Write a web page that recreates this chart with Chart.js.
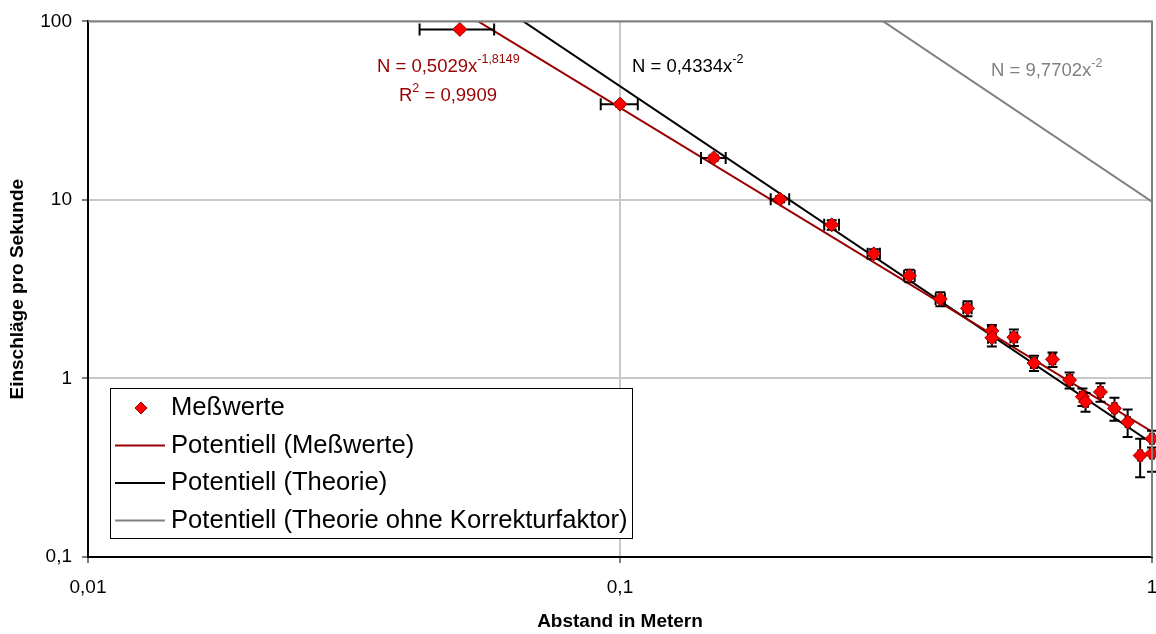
<!DOCTYPE html>
<html>
<head>
<meta charset="utf-8">
<script src="https://cdn.jsdelivr.net/npm/chart.js@4.4.0/dist/chart.umd.min.js"></script>
<style>
  html, body { margin: 0; padding: 0; background: #fff; }
</style>
</head>
<body>
<canvas id="c" width="1156" height="634"></canvas>
<script>
// Messwerte (Abstand in m, Einschläge pro s)
const abstand     = [0.05, 0.1, 0.15, 0.2, 0.25, 0.3, 0.35, 0.4, 0.45, 0.5, 0.5, 0.55, 0.6, 0.65, 0.7, 0.74, 0.75, 0.8, 0.85, 0.9, 0.95, 1.0, 1.0];
const einschlaege = [90.2, 34.4, 17.2, 10.1, 7.25, 4.99, 3.76, 2.79, 2.47, 1.85, 1.69, 1.70, 1.22, 1.28, 0.98, 0.79, 0.74, 0.84, 0.68, 0.57, 0.37, 0.46, 0.38];
const xFehler     = [0.008, 0.008, 0.008, 0.008, 0.008, 0.008, 0.008, 0.008, 0.008, 0.008, 0.008, 0.008, 0.008, 0.008, 0.008, 0.008, 0.008, 0.008, 0.008, 0.008, 0.008, 0.008, 0.008];
const yFehler     = [2, 1, 0.6, 0.4, 0.45, 0.3, 0.3, 0.25, 0.24, 0.14, 0.18, 0.18, 0.12, 0.12, 0.1, 0.09, 0.09, 0.1, 0.1, 0.1, 0.09, 0.05, 0.08];

// Trendlinien N = a * x^b
const fitMesswerte = [0.5029, -1.8149];
const fitTheorie   = [0.4334, -2];
const fitOhneKorr  = [9.7702, -2];
const fitBereich   = [0.05, 1];

const xTicks = [0.01, 0.1, 1];
const yTicks = [0.1, 1, 10, 100];

const FONT = "'Liberation Sans', Arial, sans-serif";
const DUNKELROT = '#990000';

const fmt = v => String(v).replace('.', ',');
const trend = (p) => fitBereich.map(x => ({ x: x, y: p[0] * Math.pow(x, p[1]) }));

const punkte = abstand.map((x, i) => ({ x: x, y: einschlaege[i] }));

// Fehlerbalken unter den Markern zeichnen
const fehlerbalken = {
    id: 'fehlerbalken',
    beforeDatasetDraw(chart, args) {
        if (args.index !== 0) return;
        const { ctx, scales: { x, y } } = chart;
        ctx.save();
        ctx.strokeStyle = '#000';
        ctx.lineWidth = 2;
        abstand.forEach((xv, i) => {
            const yv = einschlaege[i];
            const px = x.getPixelForValue(xv), py = y.getPixelForValue(yv);
            const x1 = x.getPixelForValue(xv - xFehler[i]), x2 = x.getPixelForValue(xv + xFehler[i]);
            const y1 = y.getPixelForValue(yv + yFehler[i]), y2 = y.getPixelForValue(yv - yFehler[i]);
            ctx.beginPath();
            ctx.moveTo(x1, py); ctx.lineTo(x2, py);
            ctx.moveTo(x1, py - 6); ctx.lineTo(x1, py + 6);
            ctx.moveTo(x2, py - 6); ctx.lineTo(x2, py + 6);
            ctx.moveTo(px, y1); ctx.lineTo(px, y2);
            ctx.moveTo(px - 5, y1); ctx.lineTo(px + 5, y1);
            ctx.moveTo(px - 5, y2); ctx.lineTo(px + 5, y2);
            ctx.stroke();
        });
        ctx.restore();
    }
};

function gleichung(ctx, x, y, teile, farbe) {
    ctx.fillStyle = farbe;
    ctx.textBaseline = 'alphabetic';
    ctx.textAlign = 'left';
    teile.forEach(([t, hoch]) => {
        ctx.font = hoch ? '12.5px ' + FONT : '18.5px ' + FONT;
        ctx.fillText(t, x, hoch ? y - 9 : y);
        x += ctx.measureText(t).width;
    });
}

const beschriftung = {
    id: 'beschriftung',
    afterDraw(chart) {
        const { ctx, chartArea: ca } = chart;
        ctx.save();
        // Rahmen oben / rechts
        ctx.strokeStyle = '#808080';
        ctx.lineWidth = 2;
        ctx.beginPath();
        ctx.moveTo(ca.left, ca.top); ctx.lineTo(ca.right, ca.top); ctx.lineTo(ca.right, ca.bottom);
        ctx.stroke();

        gleichung(ctx, 377, 72, [['N = 0,5029x'], ['-1,8149', true]], DUNKELROT);
        gleichung(ctx, 399, 101, [['R'], ['2', true], [' = 0,9909']], DUNKELROT);
        gleichung(ctx, 632, 72, [['N = 0,4334x'], ['-2', true]], '#000');
        gleichung(ctx, 991, 76, [['N = 9,7702x'], ['-2', true]], '#808080');

        // Legende
        const lx = ca.left + 22, ly = ca.bottom - 169, lw = 522, lh = 150;
        ctx.fillStyle = '#fff';
        ctx.fillRect(lx, ly, lw, lh);
        ctx.strokeStyle = '#000';
        ctx.lineWidth = 1;
        ctx.strokeRect(lx + 0.5, ly + 0.5, lw, lh);
        ctx.font = '25.6px ' + FONT;
        ctx.textBaseline = 'middle';
        chart.data.datasets.forEach((ds, i) => {
            const yy = ly + 20 + i * 37.5;
            if (i === 0) {
                ctx.beginPath();
                ctx.moveTo(lx + 25, yy); ctx.lineTo(lx + 31, yy - 6);
                ctx.lineTo(lx + 37, yy); ctx.lineTo(lx + 31, yy + 6);
                ctx.closePath();
                ctx.fillStyle = ds.backgroundColor;
                ctx.fill();
                ctx.strokeStyle = ds.borderColor;
                ctx.stroke();
            } else {
                ctx.strokeStyle = ds.borderColor;
                ctx.lineWidth = 2;
                ctx.beginPath();
                ctx.moveTo(lx + 5, yy); ctx.lineTo(lx + 55, yy);
                ctx.stroke();
                ctx.lineWidth = 1;
            }
            ctx.fillStyle = '#000';
            ctx.fillText(ds.label, lx + 61, yy);
        });
        ctx.restore();
    }
};

new Chart(document.getElementById('c'), {
    type: 'scatter',
    data: {
        datasets: [
            {
                label: 'Meßwerte',
                data: punkte,
                pointStyle: 'rectRot',
                pointRadius: 7,
                backgroundColor: '#ff0000',
                borderColor: DUNKELROT,
                borderWidth: 1,
                clip: false
            },
            {
                label: 'Potentiell (Meßwerte)',
                data: trend(fitMesswerte),
                showLine: true, pointRadius: 0,
                borderColor: DUNKELROT, borderWidth: 2, clip: 0
            },
            {
                label: 'Potentiell (Theorie)',
                data: trend(fitTheorie),
                showLine: true, pointRadius: 0,
                borderColor: '#000', borderWidth: 2, clip: 0
            },
            {
                label: 'Potentiell (Theorie ohne Korrekturfaktor)',
                data: trend(fitOhneKorr),
                showLine: true, pointRadius: 0,
                borderColor: '#808080', borderWidth: 2, clip: 0
            }
        ]
    },
    options: {
        responsive: false,
        animation: false,
        layout: { autoPadding: false, padding: { top: 20, right: 4, left: 0, bottom: 0 } },
        plugins: { legend: { display: false }, tooltip: { enabled: false } },
        scales: {
            x: {
                type: 'logarithmic',
                position: 'bottom',
                min: 0.01, max: 1,
                afterBuildTicks: s => { s.ticks = xTicks.map(v => ({ value: v })); },
                afterFit: s => { s.height = 77; s.paddingRight = 0; s.paddingLeft = 0; },
                ticks: {
                    callback: v => fmt(v),
                    font: { family: FONT, size: 19 }, color: '#000',
                    padding: 13, maxRotation: 0, autoSkip: false
                },
                grid: { color: '#c8c8c8', lineWidth: 2, tickColor: '#000', tickLength: 6, tickWidth: 1 },
                border: { color: '#000', width: 2 },
                title: {
                    display: true, text: 'Abstand in Metern', color: '#000',
                    font: { family: FONT, size: 19, weight: 'bold' },
                    padding: { top: 0, bottom: 1 }
                }
            },
            y: {
                type: 'logarithmic',
                position: 'left',
                min: 0.1, max: 100,
                afterBuildTicks: s => { s.ticks = yTicks.map(v => ({ value: v })); },
                afterFit: s => { s.width = 88; },
                ticks: {
                    callback: v => fmt(v),
                    font: { family: FONT, size: 19 }, color: '#000',
                    padding: 10, autoSkip: false
                },
                grid: { color: '#c8c8c8', lineWidth: 2, tickColor: '#000', tickLength: 6, tickWidth: 1 },
                border: { color: '#000', width: 2 },
                title: {
                    display: true, text: 'Einschläge pro Sekunde', color: '#000',
                    font: { family: FONT, size: 19, weight: 'bold' },
                    padding: { top: 6, bottom: 0 }
                }
            }
        }
    },
    plugins: [fehlerbalken, beschriftung]
});
</script>
</body>
</html>
